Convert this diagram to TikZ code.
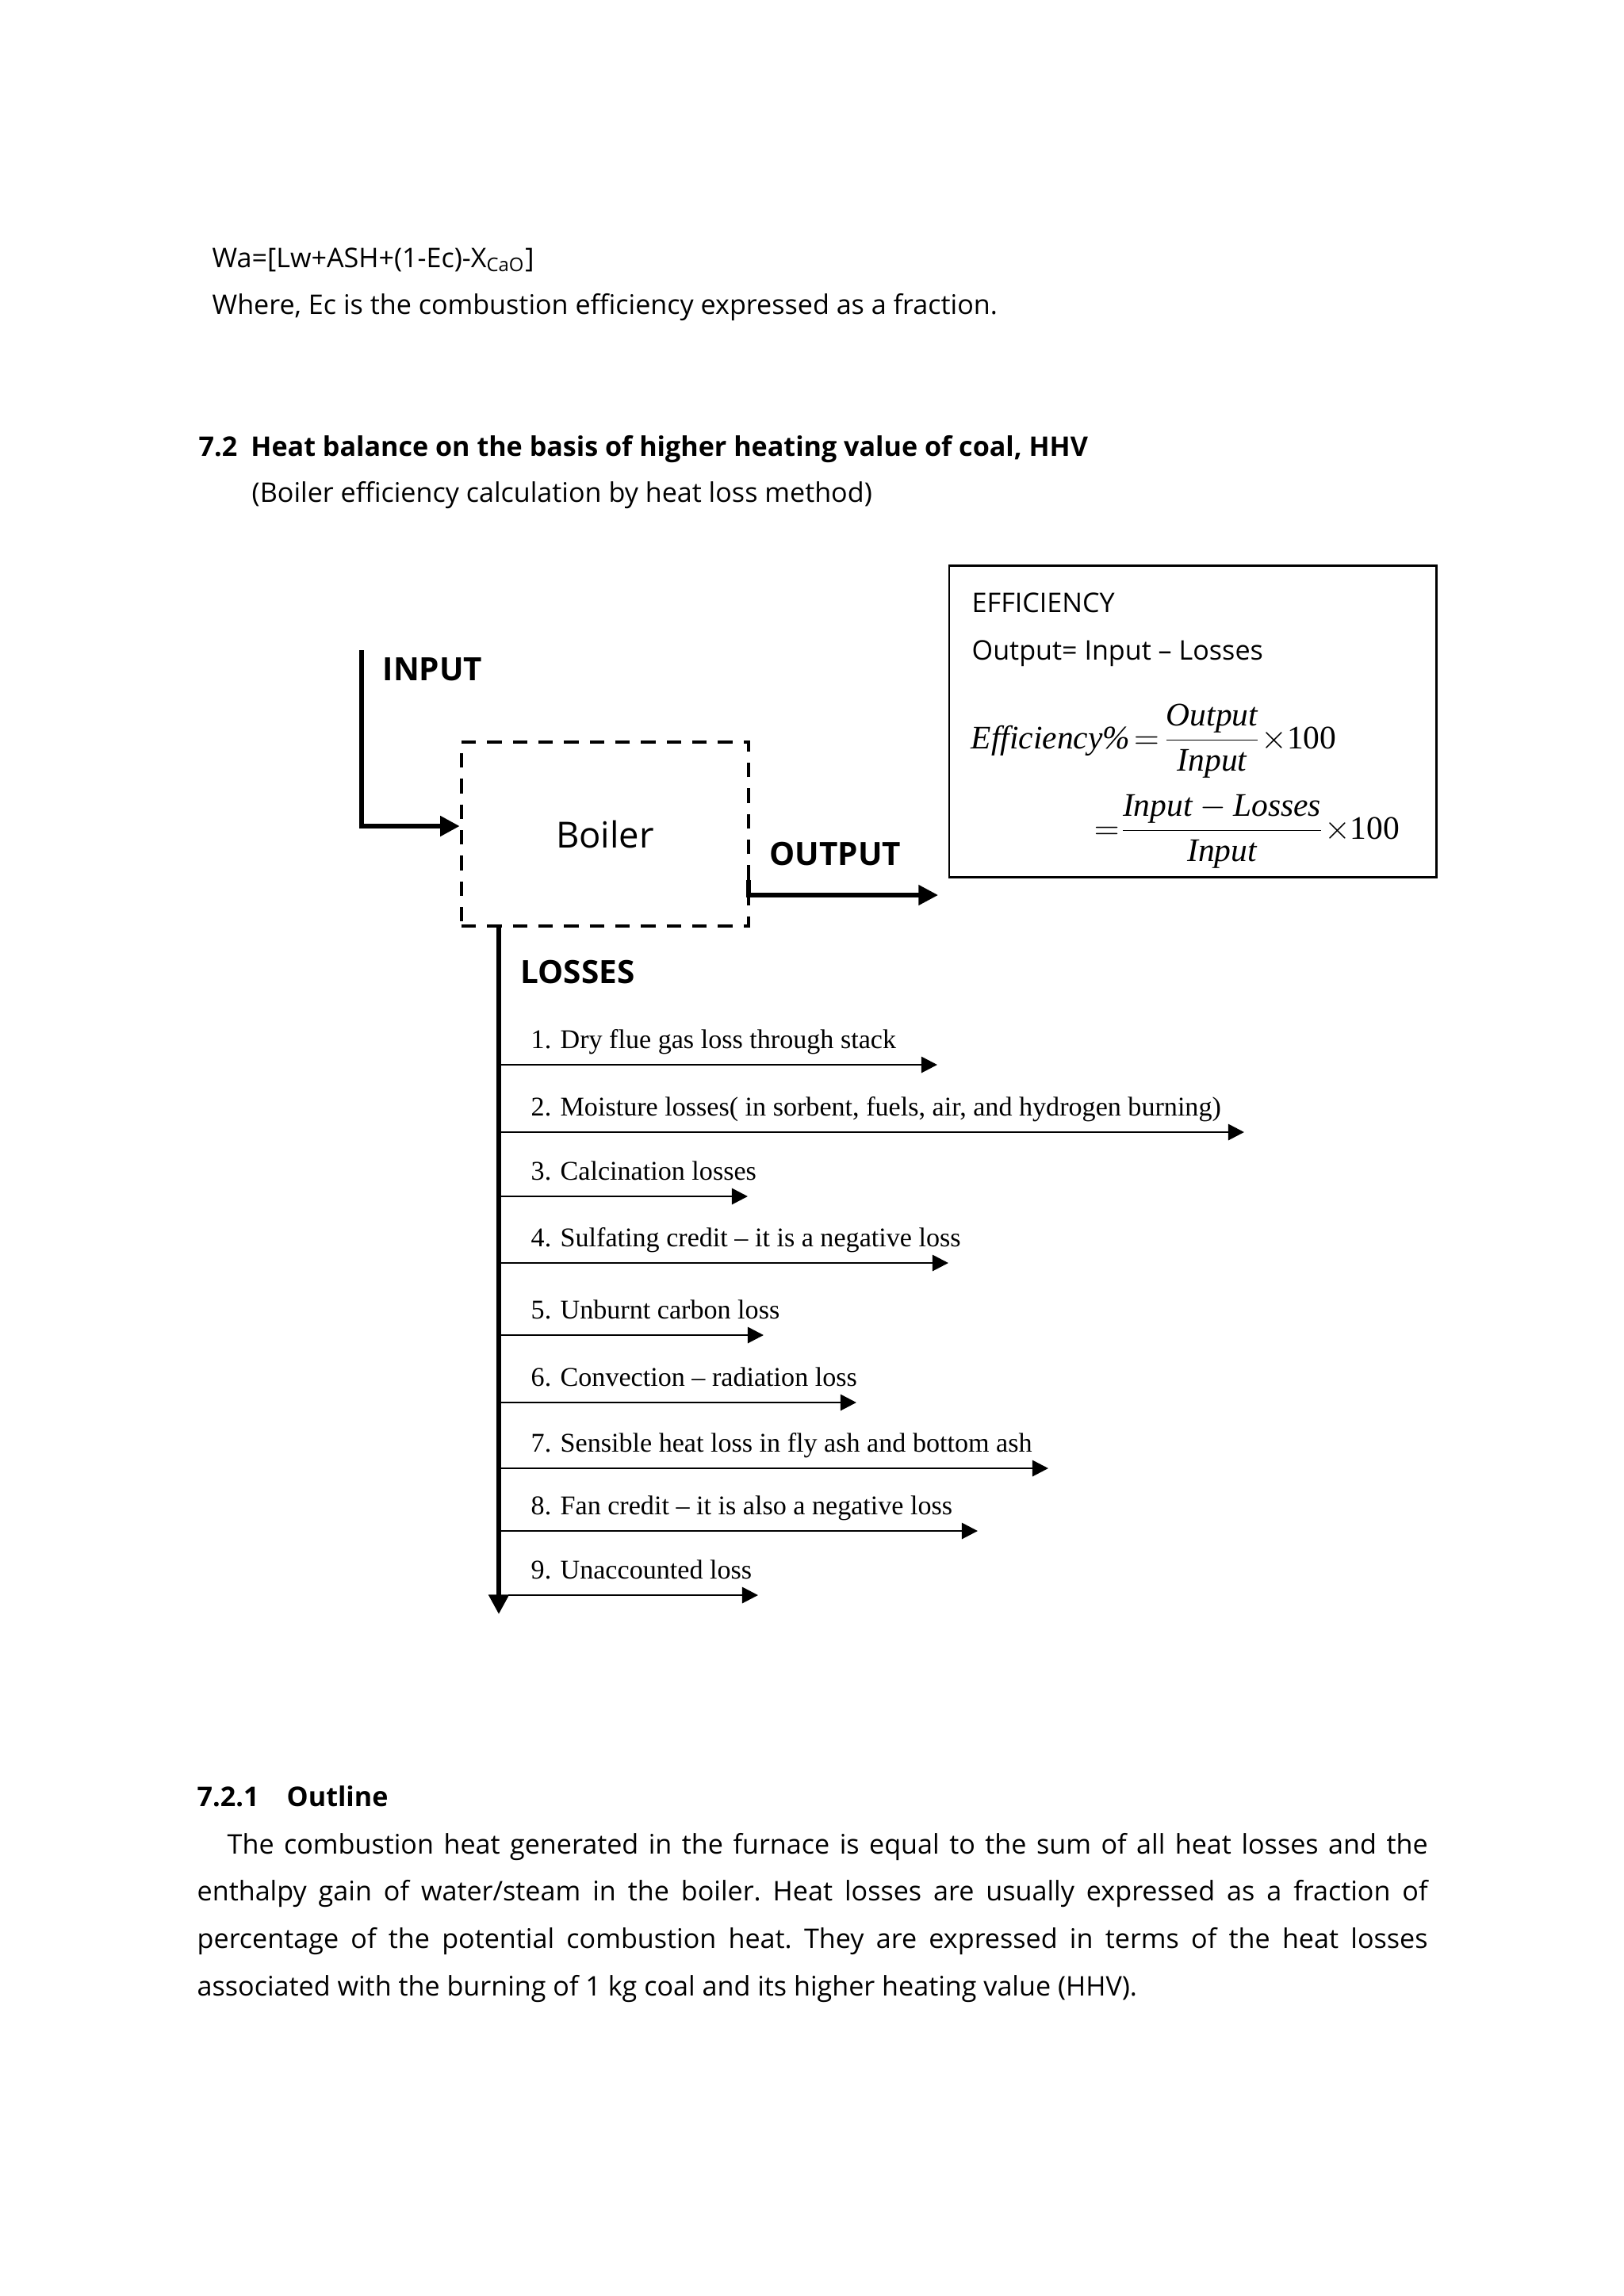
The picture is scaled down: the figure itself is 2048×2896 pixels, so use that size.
\documentclass[tikz,border=0pt]{standalone}
\usepackage{fontspec}
\setmainfont{Open Sans}
\newfontfamily\tnr[Ligatures=TeX]{Liberation Serif}
\usetikzlibrary{arrows.meta}
\newcommand\bodysize{\fontsize{9.7}{11}\selectfont\frenchspacing}
\tikzset{
  txt/.style={inner sep=0pt, anchor=base west, font=\bodysize},
  headtxt/.style={txt, font=\bodysize\bfseries},
  labeltxt/.style={inner sep=0pt, anchor=base west, font=\fontsize{11.5}{14}\selectfont\bfseries},
  itemtxt/.style={inner sep=0pt, anchor=base west, font=\tnr\fontsize{9.7}{11}\selectfont},
  mathtxt/.style={inner sep=0pt, anchor=base west, font=\tnr\fontsize{11.8}{14}\selectfont},
  thickline/.style={line width=1.5pt},
  bigtip/.style={-{Triangle[length=7pt,width=7pt]}},
  smalltip/.style={line width=0.8pt, -{Triangle[length=5.7pt,width=5.7pt]}},
  boilerbox/.style={draw, line width=1.25pt, dash pattern=on 5.2pt off 4pt,
    minimum width=3.62cm, minimum height=2.32cm, font=\fontsize{12.9}{15}\selectfont},
  effbox/.style={draw, line width=0.75pt, minimum width=6.14cm, minimum height=3.93cm}
}
\newcommand\mi[1]{\mbox{\tnr\itshape #1}}
\newcommand\eqs{\mkern2mu{=}\mkern2mu}
\begin{document}
\begin{tikzpicture}[x=0.01cm, y=-0.01cm]
  \useasboundingbox (0,0) rectangle (2048,2896);
  \fill[white] (0,0) rectangle (2048,2896);
  % text above the figure
  \node[txt] (wa) at (267,337) {Wa=[Lw+ASH+(1-Ec)-X\textsubscript{CaO}]};
  \node[txt] (where) at (267,396) {Where, Ec is the combustion efficiency expressed as a fraction.};
  \node[headtxt] (sec) at (250,575) {7.2\hspace{0.5em}Heat balance on the basis of higher heating value of coal, HHV};
  \node[txt] (secsub) at (317,633) {(Boiler efficiency calculation by heat loss method)};
  % boiler and flows
  \node[boilerbox] (boiler) at (763,1052) {Boiler};
  \coordinate (intop) at (456,820);
  \coordinate (inbend) at (456,1042);
  \draw[thickline, line width=1.7pt, bigtip] (intop) -- (inbend) -- (inbend -| boiler.west);
  \node[labeltxt] (inlabel) at (482,858) {INPUT};
  \coordinate (outstart) at (944,1110);
  \coordinate (outend) at (1183,1129);
  \draw[thickline, bigtip] (outstart) -- (outstart |- outend) -- (outend);
  \node[labeltxt] (outlabel) at (970,1091) {OUTPUT};
  \coordinate (losstop) at (629,1168);
  \coordinate (lossend) at (629,2036);
  \draw[thickline, line width=1.7pt, bigtip] (losstop) -- (lossend);
  \node[labeltxt] (losslabel) at (656,1240) {LOSSES};
  \foreach \ya/\xe/\xs/\txt [count=\i] in {
      1343/1182/629/{1. Dry flue gas loss through stack},
      1428/1569/629/{2. Moisture losses( in sorbent, fuels, air, and hydrogen burning)},
      1509/943/629/{3. Calcination losses},
      1593/1196/629/{4. Sulfating credit – it is a negative loss},
      1684/963/629/{5. Unburnt carbon loss},
      1769/1080/629/{6. Convection – radiation loss},
      1852/1322/629/{7. Sensible heat loss in fly ash and bottom ash},
      1931/1233/629/{8. Fan credit – it is also a negative loss},
      2012/956/641/{9. Unaccounted loss}} {
    \coordinate (lossa\i) at (\xs,\ya);
    \coordinate (losse\i) at (\xe,\ya);
    \draw[smalltip] (lossa\i) -- (losse\i);
    \node[itemtxt] (item\i) at (669,\ya-21) {\txt};
  }
  % efficiency box
  \node[effbox] (eff) at (1504,910) {};
  \node[txt] (efftitle) at (1225,772) {EFFICIENCY};
  \node[txt] (effline) at (1225,832) {Output= Input – Losses};
  \node[mathtxt] (effeq) at (1224,944)
    {$\displaystyle \mi{Efficiency\%}\eqs\frac{\mi{Output}}{\mi{Input}}{\times}\mbox{100}$};
  \node[mathtxt] (effeqb) at (1379,1058)
    {$\displaystyle {=}\frac{\mi{Input}-\mi{Losses}}{\mi{Input}}{\times}\mbox{100}$};
  % text below the figure
  \node[headtxt] (subsec) at (248,2278) {7.2.1};
  \node[headtxt] (subsectitle) at (361,2278) {Outline};
  \node[txt] (para1) at (286,2338) {\makebox[15.13cm][s]{The combustion heat generated in the furnace is equal to the sum of all heat losses and the}};
  \node[txt] (para2) at (248,2397) {\makebox[15.51cm][s]{enthalpy gain of water/steam in the boiler. Heat losses are usually expressed as a fraction of}};
  \node[txt] (para3) at (248,2457) {\makebox[15.51cm][s]{percentage of the potential combustion heat. They are expressed in terms of the heat losses}};
  \node[txt] (para4) at (248,2517) {associated with the burning of 1 kg coal and its higher heating value (HHV).};
\end{tikzpicture}
\end{document}
